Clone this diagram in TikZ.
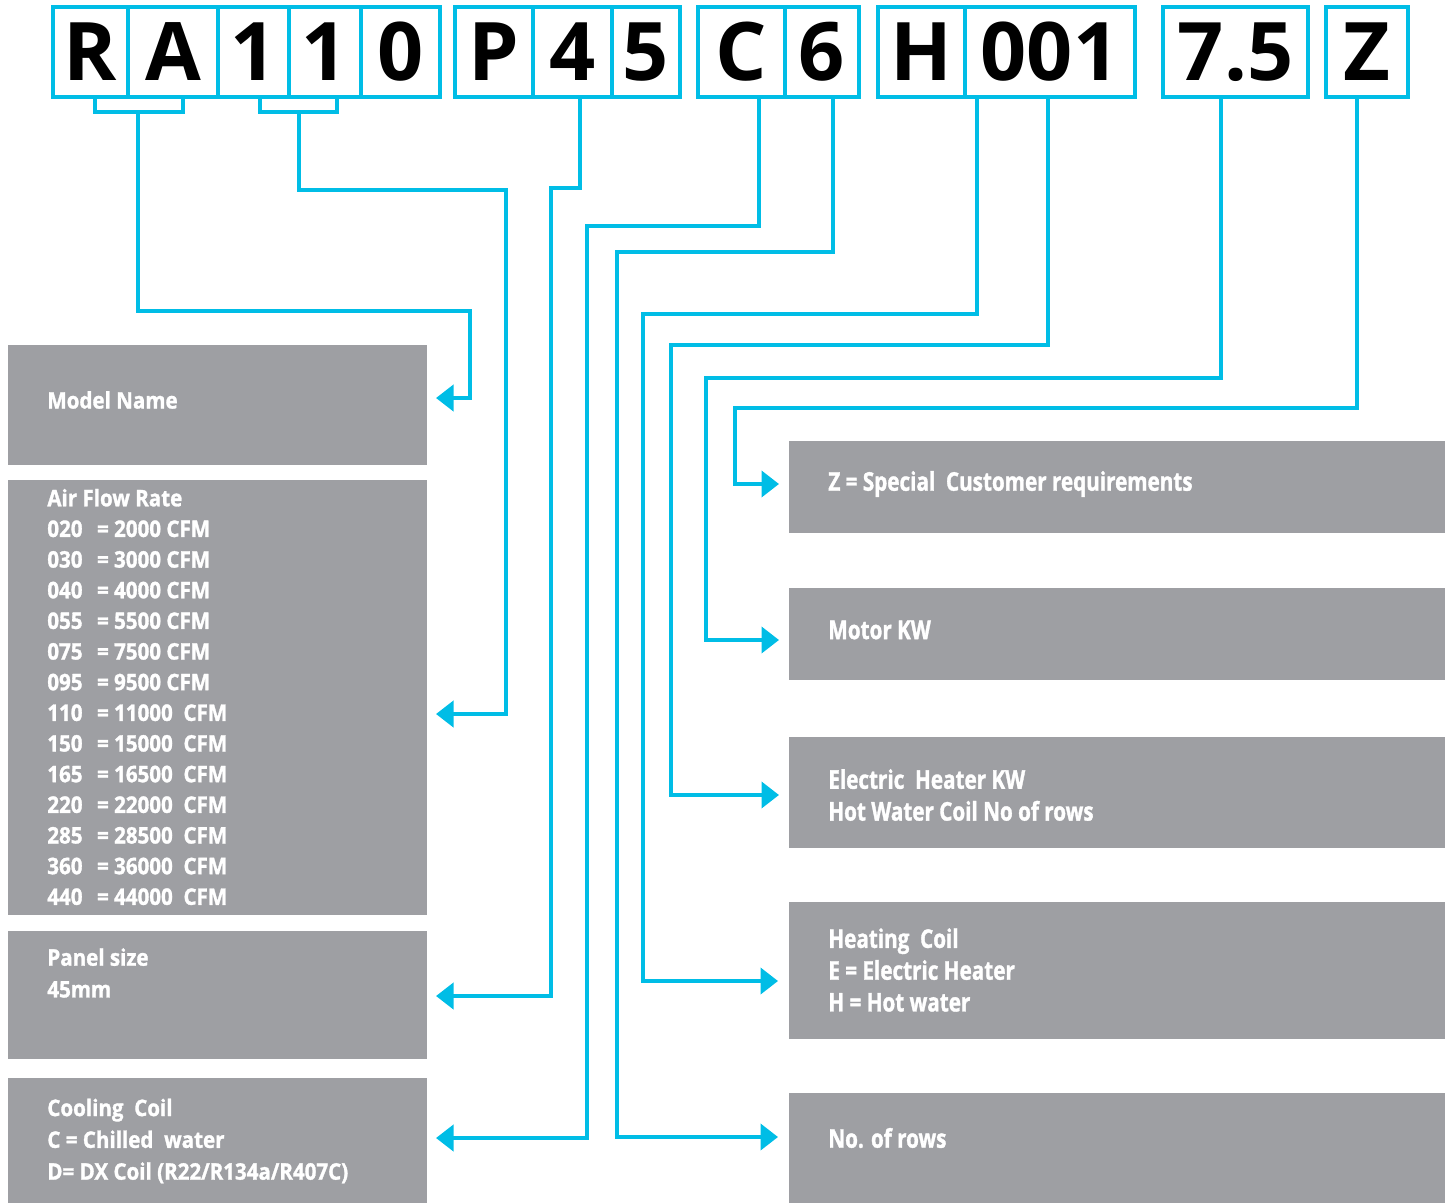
\documentclass[tikz,border=0pt]{standalone}
\usepackage{fontspec}
\setmainfont{Open Sans}
\newfontfamily\topfont{Open Sans}
\newfontfamily\lfont[FakeStretch=0.9,FakeBold=1.3]{Open Sans}
\newfontfamily\rfont[FakeStretch=0.8,FakeBold=1.3]{Open Sans}
\usetikzlibrary{arrows.meta}
\definecolor{cy}{HTML}{00BDE6}
\definecolor{gr}{HTML}{9E9FA3}
\begin{document}
\begin{tikzpicture}[x=0.02cm,y=-0.02cm,
  cell/.style={draw=cy,line width=0.07cm,minimum height=1.8cm,inner sep=0,
    font=\topfont\bfseries\fontsize{46}{46}\selectfont},
  gbox/.style={fill=gr,inner sep=0},
  txt/.style={text=white,font=\lfont\bfseries\fontsize{13}{18.1}\selectfont,align=left,anchor=west,inner sep=0},
  txtc/.style={text=white,font=\rfont\bfseries\fontsize{14.7}{18.1}\selectfont,align=left,anchor=west,inner sep=0},
  conn/.style={draw=cy,line width=0.08cm},
  brk/.style={draw=cy,line width=0.07cm},
  arr/.style={conn,-{Triangle[length=0.35cm,width=0.52cm]}}]
\useasboundingbox (0,0) rectangle (1453,1203);

% top code cells
\node[cell,minimum width=1.5cm]  (cR)  at (90.5,52)  {R};
\node[cell,minimum width=1.8cm]  (cA)  at (173,52)   {A};
\node[cell,minimum width=1.42cm] (c1a) at (253.5,52) {1};
\node[cell,minimum width=1.44cm] (c1b) at (325,52)   {1};
\node[cell,minimum width=1.58cm] (c0)  at (400.5,52) {0};
\node[cell,minimum width=1.56cm] (cP)  at (494,52)   {P};
\node[cell,minimum width=1.58cm] (c4)  at (572.5,52) {4};
\node[cell,minimum width=1.36cm] (c5)  at (646,52)   {5};
\node[cell,minimum width=1.74cm] (cC)  at (741.5,52) {C};
\node[cell,minimum width=1.48cm] (c6)  at (822,52)   {6};
\node[cell,minimum width=1.74cm] (cH)  at (921.5,52) {H};
\node[cell,minimum width=3.4cm]  (c001) at (1050,52) {001};
\node[cell,minimum width=2.9cm]  (c75) at (1235.5,52) {7.5};
\node[cell,minimum width=1.64cm] (cZ)  at (1367,52)  {Z};

% gray boxes left
\node[gbox,minimum width=8.38cm,minimum height=2.4cm]  (mdl)  at (217.5,405) {};
\node[gbox,minimum width=8.38cm,minimum height=8.7cm]  (afr)  at (217.5,697.5) {};
\node[gbox,minimum width=8.38cm,minimum height=2.56cm] (pnl)  at (217.5,995) {};
\node[gbox,minimum width=8.38cm,minimum height=2.5cm]  (cool) at (217.5,1140.5) {};
% gray boxes right
\node[gbox,minimum width=13.12cm,minimum height=1.84cm] (zb)  at (1117,487) {};
\node[gbox,minimum width=13.12cm,minimum height=1.84cm] (mot) at (1117,634) {};
\node[gbox,minimum width=13.12cm,minimum height=2.22cm] (elh) at (1117,792.5) {};
\node[gbox,minimum width=13.12cm,minimum height=2.74cm] (hc)  at (1117,970.5) {};
\node[gbox,minimum width=13.12cm,minimum height=2.2cm]  (nor) at (1117,1148) {};

% texts
\node[txt] (tmdl) at (47,400) {Model Name};
\node[txt,font=\lfont\bfseries\fontsize{13}{17.45}\selectfont] (tafr) at (47,697) {Air Flow Rate\\
020\ \ \,= 2000 CFM\\030\ \ \,= 3000 CFM\\040\ \ \,= 4000 CFM\\055\ \ \,= 5500 CFM\\
075\ \ \,= 7500 CFM\\095\ \ \,= 9500 CFM\\110\ \ \,= 11000\ \ CFM\\150\ \ \,= 15000\ \ CFM\\
165\ \ \,= 16500\ \ CFM\\220\ \ \,= 22000\ \ CFM\\285\ \ \,= 28500\ \ CFM\\
360\ \ \,= 36000\ \ CFM\\440\ \ \,= 44000\ \ CFM};
\node[txt] (tpnl) at (47,973) {Panel size\\45mm};
\node[txt] (tcool) at (47,1141) {Cooling\ \ Coil\\C = Chilled\ \ water\\D= DX Coil (R22/R134a/R407C)};
\node[txtc] (tzb) at (828,484) {Z = Special\ \ Customer requirements};
\node[txtc] (tmot) at (828,630) {Motor KW};
\node[txtc] (telh) at (828,795) {Electric\ \ Heater KW\\Hot Water Coil No of rows};
\node[txtc] (thc) at (828,970) {Heating\ \ Coil\\E = Electric Heater\\H = Hot water};
\node[txtc] (tnor) at (828,1138) {No. of rows};

% brackets under code cells
\draw[brk] (95,97) -- (95,112) -- (183,112) -- (183,97);
\draw[brk] (260,97) -- (260,112) -- (337,112) -- (337,97);

% connector start / tip coordinates
\coordinate (s1) at (138,112);
\coordinate (s2) at (299,112);
\coordinate (s3) at (c4.south -| 580,0);
\coordinate (s4) at (cC.south -| 759,0);
\coordinate (s5) at (c6.south -| 833,0);
\coordinate (s6) at (cH.south -| 977,0);
\coordinate (s7) at (c001.south -| 1048,0);
\coordinate (s8) at (c75.south -| 1221,0);
\coordinate (s9) at (cZ.south -| 1357,0);
\coordinate (a1) at (436,398);
\coordinate (a2) at (436,714);
\coordinate (a3) at (436,996);
\coordinate (a4) at (436,1138);
\coordinate (a5) at (778,1137);
\coordinate (a6) at (778,981);
\coordinate (a7) at (779,795);
\coordinate (a8) at (779,640);
\coordinate (a9) at (779,484);

% connectors
\draw[arr] (s1) -- (138,311) -- (470,311) -- (470,398) -- (a1);
\draw[arr] (s2) -- (299,190) -- (506,190) -- (506,714) -- (a2);
\draw[arr] (s3) -- (580,188) -- (551,188) -- (551,996) -- (a3);
\draw[arr] (s4) -- (759,226) -- (587,226) -- (587,1138) -- (a4);
\draw[arr] (s5) -- (833,252) -- (617,252) -- (617,1137) -- (a5);
\draw[arr] (s6) -- (977,314) -- (643,314) -- (643,981) -- (a6);
\draw[arr] (s7) -- (1048,345) -- (671,345) -- (671,795) -- (a7);
\draw[arr] (s8) -- (1221,378) -- (706,378) -- (706,640) -- (a8);
\draw[arr] (s9) -- (1357,408) -- (735,408) -- (735,484) -- (a9);
\end{tikzpicture}
\end{document}
